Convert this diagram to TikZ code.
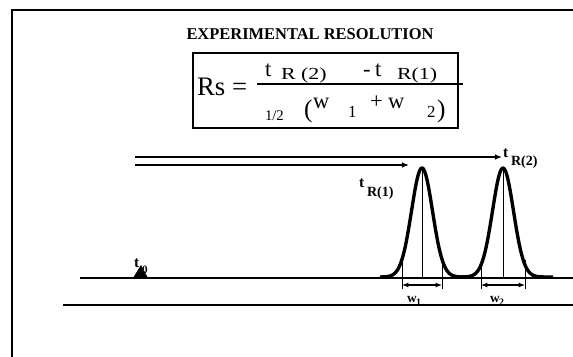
\documentclass[tikz,border=0pt]{standalone}
\usepackage{fontspec}
\setmainfont{Liberation Serif}
\usepackage{graphicx}
\usetikzlibrary{arrows.meta}

\newcommand{\fs}[1]{\fontsize{#1}{#1}\selectfont}

\begin{document}
\begin{tikzpicture}[
  x=0.025cm, y=-0.025cm,
  >={Latex[length=5pt, width=4pt]},
  every node/.style={inner sep=0pt, outer sep=0pt},
  frame/.style = {line width=1.6pt},
  axis/.style  = {line width=1.1pt},
  peak/.style  = {line width=2.4pt, line join=round},
  cline/.style = {line width=0.6pt},
  arr/.style   = {->, line width=0.9pt},
  warr/.style  = {<->, line width=0.8pt, >={Latex[length=4.5pt, width=3.5pt]}},
  fbig/.style  = {font=\fs{16}, anchor=base west},
  fsub/.style  = {font=\fs{12}, anchor=base west},
  lab/.style   = {font=\bfseries\fs{11}, anchor=base west},
  lsub/.style  = {font=\bfseries\fs{10}, anchor=base west},
]
  \useasboundingbox (0,0) rectangle (573,356);

  % frame and axes
  \draw[frame] (12,357) -- (12,10) -- (574,10);
  \draw[axis] (80,278) -- (574,278);
  \draw[axis] (63,305) -- (574,305);

  % title and formula
  \node[font=\bfseries\fs{11.7}, anchor=base] (title) at (310,39) {EXPERIMENTAL RESOLUTION};
  \draw[line width=0.8pt] (193,53) rectangle (458,128);
  \node[fbig, font=\fs{19}] (rs) at (197,95) {Rs\hspace{5pt}=};
  \draw[line width=1pt] (257,84) -- (463,84);
  \node[fbig] (t2)  at (265,76) {t};
  \node[fsub] (r2)  at (281,79) {\scalebox{1.3}[1]{R (2)}};
  \node[fbig] (mn)  at (363,76) {-};
  \node[fbig] (t1)  at (375,76) {t};
  \node[fsub] (r1)  at (397,79) {\scalebox{1.3}[1]{R(1)}};
  \node[fsub, font=\fs{10.5}] (half) at (265,120) {1/2};
  \node[fbig, font=\fs{18}] (lp) at (304,117) {(};
  \node[fbig] (w1)  at (313,108) {w};
  \node[fsub] (n1)  at (348,117) {1};
  \node[fbig] (pl)  at (370,108) {+};
  \node[fbig] (w2)  at (388,108) {w};
  \node[fsub] (n2)  at (427,117) {2};
  \node[fbig, font=\fs{18}] (rp) at (437,117) {)};

  % peaks
  \draw[peak] plot[domain=380:462, samples=80, smooth]
    (\x, {277-109*exp(-min((\x-422)^2/220, 9))});
  \draw[peak] plot[domain=462:553, samples=80, smooth]
    (\x, {277-109*exp(-min((\x-503)^2/220, 9))});
  \coordinate (p1) at (422,168); \coordinate (b1) at (422,278);
  \coordinate (p2) at (503,168); \coordinate (b2) at (503,278);
  \draw[cline] (p1) -- (b1);
  \draw[cline] (p2) -- (b2);

  % retention arrows
  \coordinate (s1) at (135,165); \coordinate (e1) at (409,165);
  \coordinate (s2) at (135,157); \coordinate (e2) at (502,157);
  \draw[arr] (s1) -- (e1);
  \draw[arr] (s2) -- (e2);
  \node[lab]  (tR1) at (359,187) {t};
  \node[lsub] (tR1s) at (367,196) {R(1)};
  \node[lab]  (tR2) at (503,157) {t};
  \node[lsub] (tR2s) at (511,165) {R(2)};

  % t0
  \fill (133,278) -- (141,265) -- (148,278) -- cycle;
  \node[lab]  (t0)  at (134,267) {t};
  \node[lsub, font=\bfseries\fs{8}] (t0s) at (142,273) {0};

  % widths
  \foreach \xx in {402,442,481,525}
    \draw[cline] (\xx,260) -- (\xx,289);
  \coordinate (w1a) at (402,285); \coordinate (w1b) at (442,285);
  \coordinate (w2a) at (481,285); \coordinate (w2b) at (525,285);
  \draw[warr] (w1a) -- (w1b);
  \draw[warr] (w2a) -- (w2b);
  \node[lab, font=\bfseries\fs{9.5}]  (wl1) at (407,302) {w};
  \node[lsub, font=\bfseries\fs{7}]   (wl1s) at (416,305) {1};
  \node[lab, font=\bfseries\fs{9.5}]  (wl2) at (490,302) {w};
  \node[lsub, font=\bfseries\fs{7}]   (wl2s) at (499,305) {2};
\end{tikzpicture}
\end{document}
